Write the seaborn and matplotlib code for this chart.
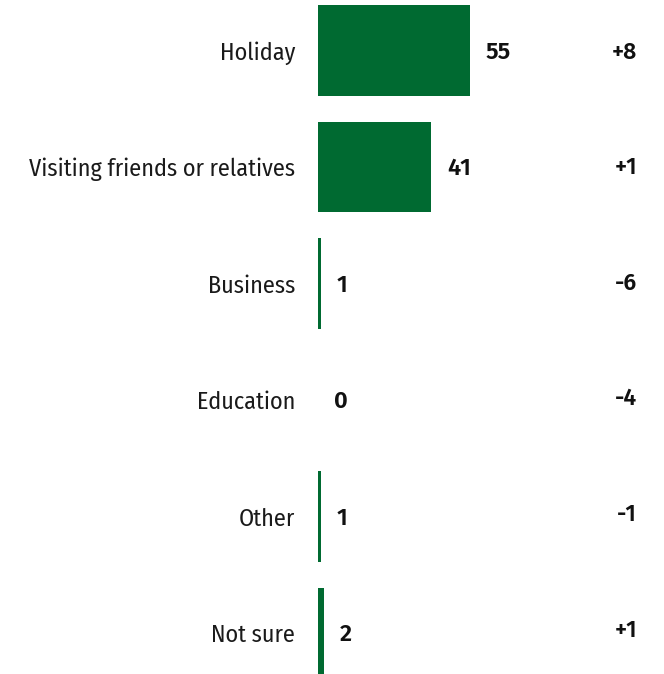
import matplotlib
matplotlib.use("Agg")
import matplotlib.pyplot as plt
import seaborn as sns
import pandas as pd

categories = ["Holiday", "Visiting friends or relatives", "Business", "Education", "Other", "Not sure"]
values = [55, 41, 1, 0, 1, 2]
changes = ["+8", "+1", "-6", "-4", "-1", "+1"]

df = pd.DataFrame({"category": categories, "value": values})

sns.set_theme(style="white")
plt.rcParams['font.family'] = ['Fira Sans', 'DejaVu Sans']

W, H = 664, 674
fig = plt.figure(figsize=(W / 100, H / 100), dpi=100)
ax = fig.add_axes([318 / W, 0, 1 - 318 / W, 1])

sns.barplot(data=df, x="value", y="category", color="#006a31", saturation=1,
            width=0.78, linewidth=0, ax=ax, orient="h")

ax.set_xlim(0, (W - 318) / 2.76)
ax.set_ylim(5.352, -0.433)
ax.set_xlabel("")
ax.set_ylabel("")
ax.set_xticks([])
for s in ax.spines.values():
    s.set_visible(False)

ax.tick_params(axis="y", length=0, pad=16.5)
for lbl in ax.get_yticklabels():
    lbl.set_fontfamily(['Fira Sans Condensed', 'DejaVu Sans'])
    lbl.set_fontsize(17.4)
    lbl.set_color("#1a1a1a")

for i, (v, c) in enumerate(zip(values, changes)):
    ax.annotate(str(v), xy=(v, i), xytext=(11.5, -1.2), textcoords="offset points",
                ha="left", va="center", fontsize=17, fontweight="semibold", color="#111111")
    y_px = 52 + i * 115.6
    fig.text(637 / W, 1 - y_px / H, c, ha="right", va="center",
             fontsize=16.5, fontweight="semibold", color="#111111")

fig.savefig("out.png", dpi=100)
